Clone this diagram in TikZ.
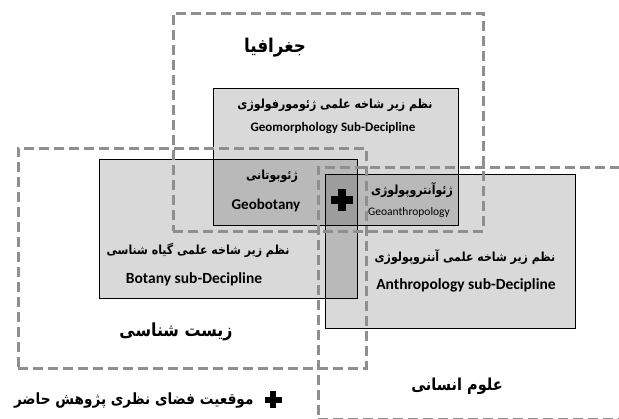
\documentclass[tikz,border=0pt]{standalone}
\usepackage{fontspec}
\setmainfont{Carlito}
\newfontfamily\fa[Script=Arabic, FakeStretch=0.88]{DejaVu Sans}
\TeXXeTstate=1
\newcommand{\fatext}[1]{{\fa\beginR #1\endR}}
\newcommand{\plusmark}[2]{%
  \fill (#1)+(-#2*0.16,-#2/2) rectangle +(#2*0.16,#2/2);
  \fill (#1)+(-#2/2,-#2*0.16) rectangle +(#2/2,#2*0.16);}

\begin{document}
\begin{tikzpicture}[x=1pt,y=-1pt,
  field/.style={draw=black!44, line width=2.6pt, dash pattern=on 10pt off 5pt,
    anchor=north west, inner sep=0pt},
  subfield/.style={draw=black, line width=0.7pt, fill=black, fill opacity=0.15,
    anchor=north west, inner sep=0pt},
  fatitle/.style={font=\fa\bfseries\fontsize{12.5}{14}\selectfont},
  entitle/.style={font=\bfseries\fontsize{13}{15}\selectfont},
  fieldlabel/.style={font=\fa\bfseries\fontsize{18}{20}\selectfont}]
\useasboundingbox (0,0) rectangle (619,419);
\clip (0,0) rectangle (619,419);

% sub-discipline boxes
\node[subfield, minimum width=245pt, minimum height=137pt] (geomorph) at (213,88) {};
\node[subfield, minimum width=258pt, minimum height=139pt] (botany) at (99,159) {};
\node[subfield, minimum width=250pt, minimum height=154pt] (anthro) at (325,174) {};

% fields
\node[field, minimum width=310pt, minimum height=218pt] (geo) at (172,12) {};
\node[field, minimum width=348pt, minimum height=220pt] (bio) at (17,147) {};
\node[field, minimum width=340pt, minimum height=252pt] (human) at (317,166) {};

% texts
\node[fatitle] (geomorphfa) at (335,105) {\fatext{نظم زیر شاخه علمی ژئومورفولوژی}};
\node[entitle] (geomorphen) at (333,128) {Geomorphology Sub-Decipline};
\node[fatitle] (geobotfa) at (272,176) {\fatext{ژئوبوتانی}};
\node[entitle, font=\bfseries\fontsize{15}{17}\selectfont] (geoboten) at (266,205) {Geobotany};
\node[fatitle] (geoanthfa) at (412,190) {\fatext{ژئوآنتروپولوژی}};
\node[font=\fontsize{11.5}{13}\selectfont] (geoanthen) at (409,212) {Geoanthropology};
\node[fatitle] (botanyfa) at (198,250) {\fatext{نظم زیر شاخه علمی گیاه شناسی}};
\node[entitle, font=\bfseries\fontsize{15.5}{17}\selectfont] (botanyen) at (194,279) {Botany sub-Decipline};
\node[fatitle] (anthrofa) at (465,257) {\fatext{نظم زیر شاخه علمی آنتروپولوژی}};
\node[entitle, font=\bfseries\fontsize{15.5}{17}\selectfont] (anthroen) at (466,285) {Anthropology sub-Decipline};

\node[fieldlabel, font=\fa\bfseries\fontsize{19}{21}\selectfont] (geolabel) at (275,48) {\fatext{جغرافیا}};
\node[fieldlabel] (biolabel) at (176,332) {\fatext{زیست شناسی}};
\node[fieldlabel, font=\fa\bfseries\fontsize{16.5}{19}\selectfont] (humanlabel) at (457,386) {\fatext{علوم انسانی}};

% position of this research
\coordinate (here) at (342,200);
\plusmark{here}{22}
\coordinate (legendmark) at (273,400);
\plusmark{legendmark}{17}
\node[fieldlabel, font=\fa\bfseries\fontsize{15.5}{18}\selectfont, anchor=east] (legend) at (257,401)
  {\fatext{موقعیت فضای نظری پژوهش حاضر}};
\end{tikzpicture}
\end{document}
